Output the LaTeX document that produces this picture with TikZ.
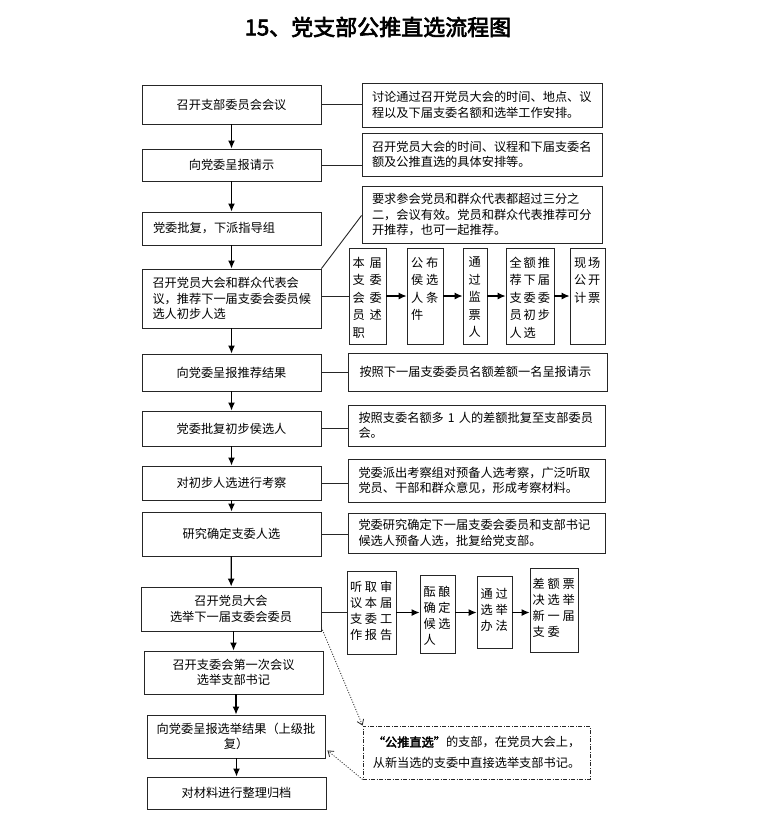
\documentclass[tikz,border=0pt]{standalone}
\usepackage{fontspec}
\setmainfont{Noto Sans CJK SC}[BoldFont={Noto Sans CJK SC},BoldFeatures={FakeBold=3}]
\usetikzlibrary{arrows.meta}
\newcommand{\lsa}{\kern5pt}
\newcommand{\lsb}{\kern2.8pt}
\newcommand{\lsc}{\kern2pt}
\newcommand{\vtA}[2]{\parbox[c][78pt][t]{#1pt}{\raggedright\fontsize{12.2}{17.5}\selectfont #2}}
\newcommand{\vtB}[3]{\parbox[c][#1pt][t]{#2pt}{\raggedright\fontsize{12.2}{16}\selectfont #3}}
\tikzset{
  txt/.style={font=\fontsize{12.2}{15.5}\selectfont},
  box/.style={draw=black!85, line width=0.9pt, inner sep=0pt, txt},
  mainbox/.style={box, minimum width=179pt},
  rbox/.style={box, align=left},
  sbox/.style={box, minimum height=96pt},
  conn/.style={draw=black!85, line width=0.9pt},
  arr/.style={draw=black, line width=1.3pt, -{Latex[length=8pt,width=7pt]}},
  harr/.style={draw=black, line width=1.1pt, -{Latex[length=8pt,width=7pt]}},
  dotarr/.style={draw=black!85, line width=0.8pt, dash pattern=on 1pt off 1.6pt, -{Straight Barb[length=5pt,width=7pt]}},
  dashbox/.style={draw=black!85, line width=0.9pt, dash pattern=on 4pt off 1.5pt on 1pt off 1.5pt, inner sep=0pt, txt}
}
\begin{document}
\begin{tikzpicture}[x=1pt,y=-1pt]
\useasboundingbox[fill=white] (0,0) rectangle (765,832);

% title
\node[font=\fontsize{22}{22}\selectfont\bfseries] (title) at (378,27) {15、党支部公推直选流程图};

% main column
\node[mainbox, minimum height=39pt] (B1) at (231.5,104.5) {召开支部委员会会议};
\node[mainbox, minimum height=32pt] (B2) at (231.5,165) {向党委呈报请示};
\node[mainbox, minimum height=33pt, text width=157pt, align=left] (B3) at (231.5,228.5) {党委批复，下派指导组};
\node[mainbox, minimum height=59pt, text width=158pt, align=left] (B4) at (231.5,298.5) {召开党员大会和群众代表会\\议，推荐下一届支委会委员候\\选人初步人选};
\node[mainbox, minimum height=37pt] (B5) at (231.5,372.5) {向党委呈报推荐结果};
\node[mainbox, minimum height=35pt] (B6) at (231.5,428.5) {党委批复初步侯选人};
\node[mainbox, minimum height=34pt] (B7) at (231.5,483) {对初步人选进行考察};
\node[mainbox, minimum height=44pt] (B8) at (231.5,534) {研究确定支委人选};
\node[box, minimum width=180pt, minimum height=44pt, align=center] (B9) at (231,609) {召开党员大会\\选举下一届支委会委员};
\node[mainbox, minimum height=43pt, align=center] (B10) at (233.5,672.5) {召开支委会第一次会议\\选举支部书记};
\node[box, minimum width=178pt, minimum height=43pt, align=center] (B11) at (236,736.5) {向党委呈报选举结果（上级批\\复）};
\node[mainbox, minimum height=32pt] (B12) at (236.5,793) {对材料进行整理归档};

% right column
\node[rbox, minimum width=240pt, minimum height=44pt, text width=220pt] (R1) at (482,105) {讨论通过召开党员大会的时间、地点、议\\程以及下届支委名额和选举工作安排。};
\node[rbox, minimum width=240pt, minimum height=43pt, text width=220pt] (R2) at (482,154.5) {召开党员大会的时间、议程和下届支委名\\额及公推直选的具体安排等。};
\node[rbox, minimum width=240pt, minimum height=57pt, text width=220pt] (R3) at (482,214.5) {要求参会党员和群众代表都超过三分之\\二，会议有效。党员和群众代表推荐可分\\开推荐，也可一起推荐。};
\node[rbox, minimum width=259pt, minimum height=38pt, text width=236pt] (R5) at (477.5,372) {按照下一届支委委员名额差额一名呈报请示};
\node[rbox, minimum width=257pt, minimum height=41pt, text width=236pt] (R6) at (476.5,425.5) {按照支委名额多 1 人的差额批复至支部委员\\会。};
\node[rbox, minimum width=257pt, minimum height=43pt, text width=236pt] (R7) at (476.5,480.5) {党委派出考察组对预备人选考察，广泛听取\\党员、干部和群众意见，形成考察材料。};
\node[rbox, minimum width=257pt, minimum height=40pt, text width=236pt] (R8) at (476.5,533) {党委研究确定下一届支委会委员和支部书记\\候选人预备人选，批复给党支部。};

% small boxes row 1
\node[sbox, minimum width=37pt] (a) at (367.5,296) {\vtA{30}{本\lsa 届\\支\lsa 委\\会\lsa 委\\员\lsa 述\\职}};
\node[sbox, minimum width=36pt] (b) at (425,296) {\vtA{28}{公\lsb 布\\侯\lsb 选\\人\lsb 条\\件}};
\node[sbox, minimum width=24pt] (c) at (475,296) {\vtA{13}{通\\过\\监\\票\\人}};
\node[sbox, minimum width=48pt] (d) at (530,296) {\vtA{41}{全\lsc 额\lsc 推\\荐\lsc 下\lsc 届\\支\lsc 委\lsc 委\\员\lsc 初\lsc 步\\人\lsc 选}};
\node[sbox, minimum width=35pt] (e) at (587.5,296) {\vtA{27}{现\lsc 场\\公\lsc 开\\计\lsc 票}};

% small boxes row 2
\node[box, minimum width=49pt, minimum height=83pt] (f) at (371.5,612.5) {\vtB{63}{43}{听\lsb 取\lsb 审\\议\lsb 本\lsb 届\\支\lsb 委\lsb 工\\作\lsb 报\lsb 告}};
\node[box, minimum width=35pt, minimum height=78pt] (g) at (437.5,614) {\vtB{56}{28}{酝\lsb 酿\\确\lsb 定\\候\lsb 选\\人}};
\node[box, minimum width=35pt, minimum height=72pt] (h) at (494.5,612) {\vtB{48}{28}{通\lsb 过\\选\lsb 举\\办\lsb 法}};
\node[box, minimum width=48pt, minimum height=84pt] (i) at (554,610) {\vtB{64}{43}{差\lsb 额\lsb 票\\决\lsb 选\lsb 举\\新\lsb 一\lsb 届\\支\lsb 委}};

% dash-dot note box
\node[dashbox, minimum width=227pt, minimum height=53pt, align=center, font=\fontsize{12.2}{21}\selectfont] (D) at (476.5,752.5) {{\bfseries “公推直选”}的支部，在党员大会上，\\从新当选的支委中直接选举支部书记。};

% vertical arrows
\draw[arr] (B1) -- (B2);
\draw[arr] (B2) -- (B3);
\draw[arr] (B3) -- (B4);
\draw[arr] (B4) -- (B5);
\draw[arr] (B5) -- (B6);
\draw[arr] (B6) -- (B7);
\draw[arr] (B7) -- (B8);
\draw[arr] (B8) -- (B9);
\draw[arr] (B9.south -| B10.north) -- (B10.north);
\draw[arr] (B10.south -| B11.north) -- (B11.north);
\draw[arr] (B11.south -| B12.north) -- (B12.north);

% side connectors
\draw[conn] (B1.east) -- (B1.east -| R1.west);
\draw[conn] (B2.east) -- (B2.east -| R2.west);
\coordinate (r3in) at ([yshift=-1pt]R3.west);
\draw[conn] (B4.north east) -- (r3in);
\draw[conn] (B5.east) -- (B5.east -| R5.west);
\draw[conn] (B6.east) -- (B6.east -| R6.west);
\draw[conn] (B7.east) -- (B7.east -| R7.west);
\draw[conn] (B8.east) -- (B8.east -| R8.west);

% row 1 chain
\draw[conn] (a.west -| B4.east) -- (a.west);
\draw[harr] (a.east) -- (b.west);
\draw[harr] (b.east) -- (c.west);
\draw[harr] (c.east) -- (d.west);
\draw[harr] (d.east) -- (e.west);

% row 2 chain
\draw[conn] (f.west -| B9.east) -- (f.west);
\draw[harr] (f.east) -- (f.east -| g.west);
\draw[harr] (f.east -| g.east) -- (f.east -| h.west);
\draw[harr] (f.east -| h.east) -- (f.east -| i.west);

% dotted arrows
\draw[dotarr] ([yshift=4pt]B9.south east) -- (D.north west);
\draw[dotarr] (D.south west) -- ([xshift=2pt,yshift=8pt]B11.south east);
\end{tikzpicture}
\end{document}
